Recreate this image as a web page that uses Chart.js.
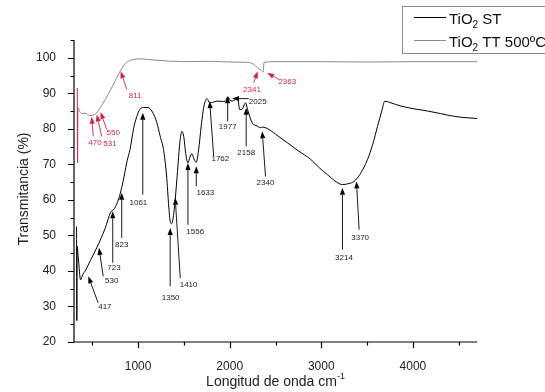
<!DOCTYPE html>
<html>
<head>
<meta charset="utf-8">
<script src="https://cdn.jsdelivr.net/npm/chart.js@4/dist/chart.umd.min.js"></script>
<style>
  body { margin: 0; background: #fff; }
  canvas { display: block; }
</style>
</head>
<body>
<canvas id="myChart" width="545" height="392"></canvas>
<script>
// TiO2 ST (black curve)
const stWave = [328, 331, 334, 346, 372, 395, 420, 480, 548, 640, 700, 740, 790, 821, 850, 880, 912, 950, 986, 1020, 1060, 1110, 1150, 1180, 1205, 1240, 1277, 1310, 1335, 1350, 1365, 1380, 1405, 1430, 1455, 1478, 1500, 1520, 1544, 1565, 1587, 1610, 1635, 1660, 1690, 1720, 1752, 1781, 1820, 1861, 1910, 1953, 1978, 2000, 2026, 2060, 2087, 2109, 2135, 2172, 2200, 2245, 2300, 2336, 2360, 2410, 2500, 2628, 2750, 2884, 2980, 3067, 3150, 3231, 3300, 3358, 3430, 3505, 3560, 3614, 3660, 3694, 3750, 3870, 4000, 4162, 4300, 4453, 4600, 4700]
const stTrans = [52.5, 26, 47, 44, 37.5, 39, 39.9, 43, 46.5, 52, 56.5, 57.5, 60.5, 63.5, 67, 71, 74.2, 80, 83.5, 85.5, 86, 86, 85, 83.5, 81.7, 78, 74.2, 67, 58, 54, 53.3, 54.5, 60.1, 68, 76, 79.3, 77.5, 73, 70.4, 72, 73, 71.5, 70.6, 74, 81, 86.5, 88.5, 87.3, 87.5, 87.8, 87.7, 87.8, 89, 88.2, 87.8, 88.2, 88.5, 85.4, 85.5, 87.3, 85, 81.7, 80.8, 80.3, 80.5, 80.1, 78.5, 76.1, 73.8, 71.4, 69, 67.1, 65.3, 64.3, 64.6, 65.2, 67.5, 71.4, 75.5, 80.7, 85, 87.8, 87.4, 86.4, 85.7, 85, 84.3, 83.5, 83.1, 82.9]

// TiO2 TT 500ºC (upper curve)
const ttWave = [336, 339, 342, 360, 383, 420, 474, 500, 548, 600, 680, 750, 803, 850, 890, 950, 1022, 1200, 1500, 1800, 2000, 2200, 2260, 2300, 2340, 2366, 2375, 2500, 3000, 3500, 4000, 4700]
const ttTrans = [91.5, 70.5, 86, 85, 84.3, 84.4, 83.7, 83.8, 84.5, 86.5, 90, 93.5, 96.2, 98, 99, 99.5, 99.7, 99.3, 98.9, 99, 98.8, 98.7, 98.2, 97.3, 96.5, 96, 98.7, 98.9, 98.9, 98.8, 98.9, 98.9]

const xTicks = [500, 1000, 1500, 2000, 2500, 3000, 3500, 4000, 4500]

// peak marks: label, arrow tip (wave, %T), arrow tail (wave, %T), label centre (wave, %T)
const stMarks = [
  ['417', 456, 38.5, 564, 31.0, 637, 30.0],
  ['530', 573, 46.5, 619, 38.5, 712, 37.3],
  ['723', 723, 56.8, 723, 42.3, 737, 40.8],
  ['823', 821, 62.0, 821, 49.3, 821, 47.4],
  ['1061', 1051, 84.5, 1051, 61.5, 1003, 59.3],
  ['1350', 1350, 52.1, 1350, 35.7, 1355, 32.4],
  ['1410', 1405, 60.6, 1460, 38.0, 1551, 36.1],
  ['1556', 1544, 70.4, 1544, 53.0, 1624, 50.9],
  ['1633', 1635, 69.5, 1635, 63.8, 1734, 62.0],
  ['1762', 1781, 87.8, 1825, 72.3, 1898, 71.5],
  ['1977', 1978, 89.2, 1978, 82.1, 1978, 80.5],
  ['2025', 2026, 88.5, 2207, 88.5, 2306, 87.6],
  ['2158', 2180, 85.9, 2180, 75.1, 2180, 73.3],
  ['2340', 2355, 79.3, 2391, 66.6, 2391, 64.8],
  ['3214', 3231, 63.4, 3231, 46.0, 3248, 43.8],
  ['3370', 3384, 65.2, 3413, 51.6, 3424, 49.2]
]
const ttMarks = [
  ['470', 493, 83.4, 510, 77.9, 529, 76.1],
  ['531', 548, 84.0, 602, 77.9, 693, 75.9],
  ['550', 590, 84.7, 657, 79.8, 729, 78.9],
  ['811', 810, 96.2, 876, 91.1, 967, 89.2],
  ['2341', 2306, 96.2, 2262, 93.0, 2243, 91.0],
  ['2363', 2409, 95.8, 2537, 93.9, 2629, 93.1]
]

const red = '#d0244e'
const font = '"Liberation Sans", Arial, sans-serif'

const toPts = (xs, ys) => xs.map((v, i) => ({ x: v, y: ys[i] }))

function drawArrow(ctx, x, y, m, color) {
  const tx = x.getPixelForValue(m[1]), ty = y.getPixelForValue(m[2])
  const bx = x.getPixelForValue(m[3]), by = y.getPixelForValue(m[4])
  const ang = Math.atan2(ty - by, tx - bx)
  const hl = 7, hw = 2.6
  ctx.strokeStyle = color
  ctx.fillStyle = color
  ctx.lineWidth = 0.9
  ctx.beginPath()
  ctx.moveTo(bx, by)
  ctx.lineTo(tx - Math.cos(ang) * hl, ty - Math.sin(ang) * hl)
  ctx.stroke()
  ctx.beginPath()
  ctx.moveTo(tx, ty)
  ctx.lineTo(tx - Math.cos(ang) * hl - Math.sin(ang) * hw, ty - Math.sin(ang) * hl + Math.cos(ang) * hw)
  ctx.lineTo(tx - Math.cos(ang) * hl + Math.sin(ang) * hw, ty - Math.sin(ang) * hl - Math.cos(ang) * hw)
  ctx.closePath()
  ctx.fill()
  ctx.font = '8px ' + font
  ctx.textAlign = 'center'
  ctx.textBaseline = 'middle'
  ctx.fillStyle = color === '#000' ? '#222' : color
  ctx.fillText(m[0], x.getPixelForValue(m[5]), y.getPixelForValue(m[6]))
}

function legendText(ctx, x0, yb, rest) {
  ctx.font = '15px ' + font
  ctx.fillText('TiO', x0, yb)
  let w = ctx.measureText('TiO').width
  ctx.font = '10px ' + font
  ctx.fillText('2', x0 + w, yb + 4)
  w += ctx.measureText('2').width
  ctx.font = '15px ' + font
  ctx.fillText(rest, x0 + w, yb)
}

const decor = {
  id: 'decor',
  afterDraw(chart) {
    const { ctx, chartArea: a } = chart
    const x = chart.scales.x, y = chart.scales.y
    ctx.save()
    // axes and ticks
    ctx.strokeStyle = '#000'
    ctx.lineWidth = 1.2
    ctx.beginPath()
    ctx.moveTo(a.left, a.top)
    ctx.lineTo(a.left, a.bottom)
    ctx.lineTo(a.right, a.bottom)
    y.ticks.forEach(t => {
      const py = Math.round(y.getPixelForValue(t.value)) + 0.5
      const len = t.value % 10 === 0 ? 6 : 3.5
      ctx.moveTo(a.left - len, py); ctx.lineTo(a.left, py)
    })
    x.ticks.forEach(t => {
      const px = Math.round(x.getPixelForValue(t.value)) + 0.5
      const len = t.value % 1000 === 0 ? 6 : 3.5
      ctx.moveTo(px, a.bottom); ctx.lineTo(px, a.bottom + len)
    })
    ctx.stroke()

    stMarks.forEach(m => drawArrow(ctx, x, y, m, '#000'))
    ttMarks.forEach(m => drawArrow(ctx, x, y, m, red))

    // axis titles
    ctx.fillStyle = '#222'
    ctx.textAlign = 'left'
    ctx.textBaseline = 'alphabetic'
    const t1 = 'Longitud de onda cm'
    ctx.font = '9px ' + font
    const supW = ctx.measureText('-1').width
    ctx.font = '14px ' + font
    const w1 = ctx.measureText(t1).width
    const cx = (a.left + a.right) / 2
    const sx = cx - (w1 + supW) / 2
    ctx.fillText(t1, sx, 386)
    ctx.font = '9px ' + font
    ctx.fillText('-1', sx + w1, 379)

    ctx.save()
    ctx.translate(28, (a.top + a.bottom) / 2 - 2)
    ctx.rotate(-Math.PI / 2)
    ctx.textAlign = 'center'
    ctx.font = '14px ' + font
    ctx.fillText('Transmitancia (%)', 0, 0)
    ctx.restore()

    // legend box
    ctx.strokeStyle = '#888'
    ctx.lineWidth = 1
    ctx.strokeRect(402.5, 6.5, 200, 47)
    ctx.strokeStyle = '#000'
    ctx.beginPath(); ctx.moveTo(414, 17.5); ctx.lineTo(446, 17.5); ctx.stroke()
    ctx.strokeStyle = '#8a8a8a'
    ctx.beginPath(); ctx.moveTo(414, 40.5); ctx.lineTo(446, 40.5); ctx.stroke()
    ctx.fillStyle = '#111'
    ctx.textAlign = 'left'
    legendText(ctx, 449, 24, ' ST')
    legendText(ctx, 449, 47, ' TT 500ºC')
    ctx.restore()
  }
}

new Chart(document.getElementById('myChart'), {
  type: 'line',
  data: {
    datasets: [{
      label: 'TiO2 TT 500ºC',
      data: toPts(ttWave, ttTrans),
      borderColor: '#8a8a8a',
      borderWidth: 1,
      pointRadius: 0,
      cubicInterpolationMode: 'monotone',
      segment: { borderColor: c => c.p0.parsed.x < 342 ? red : undefined }
    }, {
      label: 'TiO2 ST',
      data: toPts(stWave, stTrans),
      borderColor: '#000',
      borderWidth: 1,
      pointRadius: 0,
      cubicInterpolationMode: 'monotone'
    }]
  },
  options: {
    responsive: false,
    animation: false,
    layout: { padding: { top: 40, right: 68, left: 0, bottom: 0 } },
    plugins: { legend: { display: false }, tooltip: { enabled: false } },
    scales: {
      x: {
        type: 'linear',
        min: 300,
        max: 4700,
        afterBuildTicks: s => { s.ticks = xTicks.map(v => ({ value: v })) },
        afterFit: s => { s.height = 50 },
        grid: { display: false },
        border: { display: false },
        ticks: {
          autoSkip: false,
          maxRotation: 0,
          padding: 9,
          color: '#222',
          font: { family: font, size: 12 },
          callback: v => v % 1000 === 0 ? v : ''
        }
      },
      y: {
        min: 20,
        max: 105,
        afterFit: s => { s.width = 74 },
        grid: { display: false },
        border: { display: false },
        ticks: {
          stepSize: 5,
          padding: 10,
          color: '#222',
          font: { family: font, size: 12 },
          callback: v => v % 10 === 0 ? v : ''
        }
      }
    }
  },
  plugins: [decor]
})
</script>
</body>
</html>
